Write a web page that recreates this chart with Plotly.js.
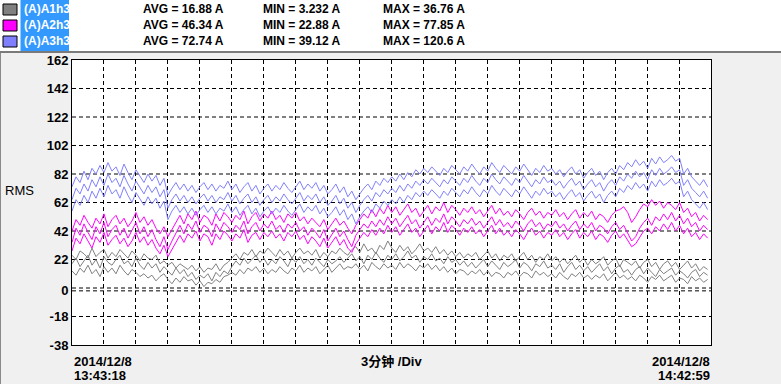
<!DOCTYPE html>
<html>
<head>
<meta charset="utf-8">
<script src="https://cdn.plot.ly/plotly-3.0.1.min.js"></script>
<style>
html,body{margin:0;padding:0;background:#f0f0f0;}
#chart{width:781px;height:384px;}
</style>
</head>
<body>
<div id="chart"></div>
<script>
// ---- data ----
const startTime = '2014-12-08 13:43:18';
const endTime = '2014-12-08 14:42:59';
const seriesNames = ['(A)A1h3', '(A)A2h3', '(A)A3h3'];
const seriesColors = ['#808080', '#ff00ff', '#8080ff'];
const avgValues = ['16.88', '46.34', '72.74'];
const minValues = ['3.232', '22.88', '39.12'];
const maxValues = ['36.76', '77.85', '120.6'];
const yTickVals = [-38, -18, 0, 22, 42, 62, 82, 102, 122, 142, 162];
const yTickText = ['-38', '-18', '0', '22', '42', '62', '82', '102', '122', '142', '162'];
const yGridVals = [-18, 0, 2, 22, 42, 62, 82, 102, 122, 142];

const gray1 = [25,22,28,26,23,30,24,27,29,23, 27,24,29,26,23,28,25,21,26,23, 22,25,19,21,18,20,16,19,17,15, 18,14,17,13,16,15,19,14,18,20,
  23,26,22,27,25,29,24,28,26,30, 27,24,29,25,28,23,27,30,26,28, 25,29,23,27,24,28,26,30,27,25, 29,31,27,33,28,30,26,32,29,35,
  30,27,32,28,31,26,29,33,28,30, 27,31,26,29,25,28,24,27,23,26, 24,27,22,25,28,23,26,21,25,23, 26,21,24,27,22,25,20,24,22,26,
  21,24,20,23,19,22,25,20,23,18, 22,19,21,24,18,21,23,17,22,20, 18,21,16,20,22,17,20,15,19,21, 17,20,15,18,21,16,19,14,17,15];
const gray2 = [19,23,17,21,25,18,22,16,24,20, 18,22,25,19,21,17,23,18,15,20, 16,19,13,17,14,11,16,12,15,10, 13,8,11,9,12,7,13,10,14,12,
  17,21,18,23,19,22,25,20,23,18, 22,19,24,21,17,23,20,24,19,22, 18,23,20,17,22,19,21,24,20,23, 26,21,24,19,25,22,27,23,20,25,
  22,26,21,24,28,23,25,20,24,22, 26,21,23,19,24,20,22,18,21,17, 20,16,19,22,17,21,18,15,20,17, 19,22,16,20,18,14,19,17,21,16,
  18,15,19,13,17,20,15,18,14,17, 13,16,19,14,17,12,16,18,13,15, 11,15,17,12,16,13,10,15,12,14, 16,11,14,12,9,13,15,10,13,11];
const gray3 = [14,11,16,13,18,12,15,10,17,13, 16,12,18,14,11,15,13,10,12,9, 11,7,10,12,8,5,9,6,10,7, 8,4,7,3,6,5,8,6,10,11,
  13,11,15,12,16,14,17,13,16,12, 15,13,17,14,12,16,14,18,13,16, 14,17,12,15,18,13,16,19,15,17, 16,19,15,18,14,20,17,15,19,16,
  18,15,20,16,19,17,14,18,16,19, 15,18,14,17,13,16,12,15,14,11, 14,12,15,11,14,10,13,12,9,13, 11,14,10,13,12,9,14,11,13,10,
  12,9,13,10,8,12,10,13,9,11, 8,11,9,12,7,10,13,9,11,8, 10,7,11,9,6,10,8,11,7,9, 11,6,9,8,5,10,7,9,6,8];

const mag1 = [42,50,46,53,48,44,51,47,54,45, 50,53,47,51,45,49,55,48,52,46, 50,44,40,45,38,43,48,53,47,54, 50,56,48,53,51,46,54,49,55,52,
  48,53,50,56,47,52,55,49,54,51, 56,50,53,48,54,51,55,49,52,47, 51,48,45,50,43,47,51,46,49,44, 40,46,50,54,51,57,52,58,54,60,
  55,59,53,57,61,55,58,52,56,60, 54,59,56,62,55,60,57,53,58,55, 59,54,57,52,56,60,54,58,53,56, 52,57,54,50,55,58,53,56,51,55,
  53,57,52,55,50,54,57,51,55,52, 56,50,54,52,48,53,56,57,59,55, 48,52,57,61,59,64,60,63,58,62, 60,57,62,55,58,52,55,49,53,50];
const mag2 = [34,44,39,47,41,36,45,40,48,38, 43,46,39,44,37,42,48,40,45,38, 43,36,31,38,29,35,41,46,40,47, 43,49,41,46,44,38,47,42,48,45,
  41,46,43,49,40,45,48,42,47,44, 49,43,46,41,47,44,48,42,45,39, 44,41,37,43,35,40,44,38,42,36, 31,39,43,47,44,49,45,50,46,52,
  47,51,45,49,53,47,50,44,48,52, 46,51,48,54,47,52,49,45,50,47, 51,46,49,44,48,52,46,50,45,48, 44,49,46,42,47,50,45,48,43,47,
  45,49,44,47,42,46,49,43,47,44, 48,42,46,44,40,45,48,43,46,41, 35,38,44,48,51,46,52,49,54,50, 55,49,53,47,51,45,48,42,46,43];
const mag3 = [28,37,33,40,35,30,38,34,41,32, 36,39,33,37,31,35,41,34,38,32, 36,30,26,32,24,29,35,39,34,40, 37,42,35,40,38,32,40,36,42,39,
  35,40,37,43,34,39,41,36,41,38, 42,37,40,35,41,38,42,36,39,33, 38,35,31,37,30,34,38,32,36,30, 27,33,37,41,38,43,39,44,40,46,
  41,45,39,43,47,41,44,38,42,46, 40,45,42,48,41,46,43,39,44,41, 45,40,43,38,42,46,40,44,39,42, 38,43,40,36,41,44,39,42,37,41,
  39,43,38,41,36,40,43,37,41,38, 42,36,40,38,34,39,42,37,40,35, 31,33,38,42,44,40,45,42,47,43, 48,42,46,40,44,38,41,36,40,37];

const blue1 = [73,80,76,84,78,86,82,88,83,90, 84,87,81,89,83,78,85,80,76,82, 77,81,74,79,67,72,76,71,75,70, 74,69,73,76,71,75,70,74,72,77,
  71,75,69,73,76,70,74,68,72,75, 70,74,71,76,72,69,73,77,71,75, 72,76,70,74,68,71,75,69,73,66, 70,64,68,72,75,71,77,74,79,76,
  80,77,82,78,83,80,85,82,86,83, 87,84,81,86,83,88,85,82,87,84, 89,85,82,87,84,90,86,83,88,85, 82,87,84,89,85,81,86,83,88,84,
  86,82,85,80,84,87,82,85,79,83, 86,81,84,78,83,86,82,88,85,90, 87,92,88,91,86,93,89,94,90,92, 95,91,93,82,86,80,77,74,78,73];
const blue2 = [64,72,68,75,70,78,73,80,74,82, 76,79,73,81,75,70,77,72,68,74, 69,73,66,71,58,64,68,63,67,62, 66,61,65,68,63,67,62,66,64,69,
  63,67,61,65,68,62,66,60,64,67, 62,66,63,68,64,61,65,69,63,67, 64,68,62,66,60,63,67,61,65,58, 62,55,60,64,67,63,69,66,71,68,
  72,69,74,70,75,72,77,74,78,75, 79,76,73,78,75,80,77,74,79,76, 81,77,74,79,76,82,78,75,80,77, 74,79,76,81,77,73,78,75,80,76,
  78,74,77,72,76,79,74,77,71,75, 78,73,76,70,75,78,74,80,77,82, 79,84,80,83,78,85,81,86,82,84, 87,83,85,74,78,72,69,66,70,65];
const blue3 = [56,64,60,67,62,70,65,72,66,74, 68,71,65,73,67,62,69,64,60,66, 61,65,58,63,50,56,60,55,59,54, 58,53,57,60,55,59,54,58,56,61,
  55,59,53,57,60,54,58,52,56,59, 54,58,55,60,56,53,57,61,55,59, 56,60,54,58,52,55,59,53,57,50, 54,47,52,56,59,55,61,58,63,60,
  64,61,66,62,67,64,69,66,70,67, 71,68,65,70,67,72,69,66,71,68, 73,69,66,71,68,74,70,67,72,69, 66,71,68,73,69,65,70,67,72,68,
  70,66,69,64,68,71,66,69,63,67, 70,65,68,62,67,70,66,72,69,74, 71,76,72,75,70,77,73,78,74,76, 79,75,77,66,70,64,61,58,62,57];

// ---- build ----
function toMs(s){
  const m = s.match(/(\d+)-(\d+)-(\d+) (\d+):(\d+):(\d+)/);
  return Date.UTC(+m[1], +m[2]-1, +m[3], +m[4], +m[5], +m[6]);
}
const t0 = toMs(startTime), t1 = toMs(endTime);
const DIV_MS = 3 * 60 * 1000;
const rangeEnd = t0 + 20 * DIV_MS;

const groups = [[gray1, gray2, gray3], [mag1, mag2, mag3], [blue1, blue2, blue3]];
const traces = [];
groups.forEach((g, gi) => {
  g.forEach(arr => {
    const n = arr.length;
    const xs = arr.map((_, i) => t0 + i * (t1 - t0) / (n - 1));
    traces.push({
      x: xs, y: arr, type: 'scatter', mode: 'lines',
      line: {color: seriesColors[gi], width: 1},
      showlegend: false, hoverinfo: 'skip'
    });
  });
});

const L = 72, R = 711, T = 60, B = 345;
const px = x => (x - L) / (R - L);
const py = y => (B - y) / (B - T);

const shapes = [];
shapes.push({type:'rect', xref:'paper', yref:'paper', x0:px(0), x1:px(781), y0:py(51), y1:py(0), fillcolor:'#ffffff', line:{width:0}, layer:'below'});
shapes.push({type:'line', xref:'paper', yref:'paper', x0:px(0), x1:px(781), y0:py(52), y1:py(52), line:{color:'#7a7a7a', width:2}, layer:'below'});
shapes.push({type:'line', xref:'paper', yref:'paper', x0:px(0.5), x1:px(0.5), y0:py(53), y1:py(384), line:{color:'#8a8a8a', width:1}, layer:'below'});
shapes.push({type:'rect', xref:'paper', yref:'paper', x0:px(20.5), x1:px(69), y0:py(51), y1:py(0), fillcolor:'#3399ff', line:{width:0}, layer:'below'});
const rowY = [9, 25, 41];
rowY.forEach((ry, i) => {
  shapes.push({type:'rect', xref:'paper', yref:'paper', x0:px(3), x1:px(17), y0:py(ry+6), y1:py(ry-5), fillcolor:seriesColors[i], line:{color:'#000', width:1}, layer:'below'});
});
yGridVals.forEach(v => {
  shapes.push({type:'line', xref:'paper', yref:'y', x0:0, x1:1, y0:v, y1:v, line:{color:'#000', width:1, dash:'4px,3px'}, layer:'below'});
});

const hdrFont = {family:'Liberation Sans, Arial, sans-serif', size:12, color:'#000', weight:'bold'};
const annotations = [];
rowY.forEach((ry, i) => {
  annotations.push({xref:'paper', yref:'paper', x:px(22), y:py(ry), xanchor:'left', yanchor:'middle', showarrow:false, text:seriesNames[i], font:Object.assign({}, hdrFont, {color:'#ffffff'})});
  annotations.push({xref:'paper', yref:'paper', x:px(141), y:py(ry), xanchor:'left', yanchor:'middle', showarrow:false, text:'AVG = ' + avgValues[i] + ' A', font:hdrFont});
  annotations.push({xref:'paper', yref:'paper', x:px(261), y:py(ry), xanchor:'left', yanchor:'middle', showarrow:false, text:'MIN = ' + minValues[i] + ' A', font:hdrFont});
  annotations.push({xref:'paper', yref:'paper', x:px(381), y:py(ry), xanchor:'left', yanchor:'middle', showarrow:false, text:'MAX = ' + maxValues[i] + ' A', font:hdrFont});
});
const botFont = {family:'Liberation Sans, Noto Sans CJK SC, sans-serif', size:13, color:'#000', weight:'bold'};
annotations.push({xref:'paper', yref:'paper', x:px(3), y:py(190), xanchor:'left', yanchor:'middle', showarrow:false, text:'RMS', font:{family:'Liberation Sans, Arial, sans-serif', size:13, color:'#000'}});
annotations.push({xref:'paper', yref:'paper', x:px(72), y:py(361), xanchor:'left', yanchor:'middle', showarrow:false, text:'2014/12/8', font:botFont});
annotations.push({xref:'paper', yref:'paper', x:px(72), y:py(376), xanchor:'left', yanchor:'middle', showarrow:false, text:'13:43:18', font:botFont});
annotations.push({xref:'paper', yref:'paper', x:px(712), y:py(361), xanchor:'right', yanchor:'middle', showarrow:false, text:'2014/12/8', font:botFont});
annotations.push({xref:'paper', yref:'paper', x:px(712), y:py(376), xanchor:'right', yanchor:'middle', showarrow:false, text:'14:42:59', font:botFont});
annotations.push({xref:'paper', yref:'paper', x:px(391), y:py(361), xanchor:'center', yanchor:'middle', showarrow:false, text:'3分钟 /Div', font:botFont});

const layout = {
  width: 781, height: 384,
  margin: {l: L, r: 781 - R, t: T, b: 384 - B, pad: 0},
  paper_bgcolor: '#f0f0f0', plot_bgcolor: '#ffffff',
  showlegend: false, hovermode: false,
  xaxis: {
    type: 'date', range: [t0, rangeEnd], tick0: t0, dtick: DIV_MS,
    showticklabels: false, ticks: '', showgrid: true, gridcolor: '#000', gridwidth: 1, griddash: '4px,3px',
    showline: true, mirror: true, linecolor: '#000', linewidth: 1, zeroline: false, fixedrange: true
  },
  yaxis: {
    range: [-38, 162], tickmode: 'array', tickvals: yTickVals, ticktext: yTickText,
    showgrid: false, zeroline: false, ticks: '', showline: true, mirror: true, linecolor: '#000', linewidth: 1,
    tickfont: {family: 'Liberation Sans, Arial, sans-serif', size: 13, color: '#000', weight: 'bold'},
    fixedrange: true
  },
  shapes: shapes,
  annotations: annotations
};

Plotly.newPlot('chart', traces, layout, {displayModeBar: false, staticPlot: true});
</script>
</body>
</html>
